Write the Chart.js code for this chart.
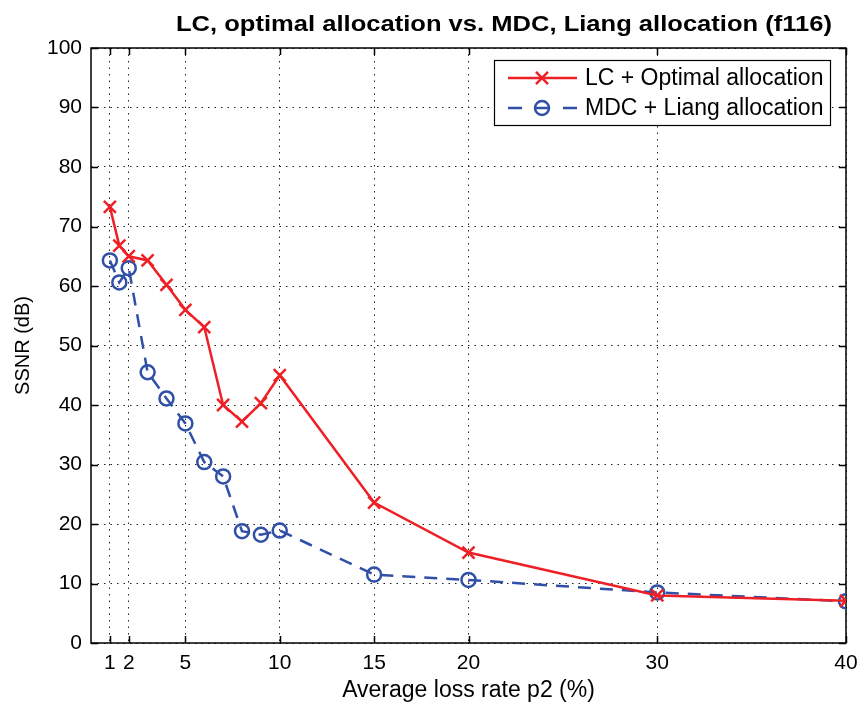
<!DOCTYPE html>
<html>
<head>
<meta charset="utf-8">
<script src="https://cdn.jsdelivr.net/npm/chart.js@4.4.1/dist/chart.umd.min.js"></script>
<style>
  html, body { margin: 0; padding: 0; background: #fff; }
  canvas { display: block; }
</style>
</head>
<body>
<canvas id="chart" width="860" height="706"></canvas>
<script>
// values
const lossRates = [1, 1.5, 2, 3, 4, 5, 6, 7, 8, 9, 10, 15, 20, 30, 40];
const lcOptimal = [73.3, 66.8, 65.0, 64.3, 60.2, 56.0, 53.1, 40.0, 37.2, 40.3, 45.0, 23.6, 15.2, 8.0, 7.1];
const mdcLiang = [64.3, 60.6, 63.0, 45.5, 41.1, 36.9, 30.4, 28.0, 18.8, 18.2, 18.9, 11.5, 10.6, 8.5, 7.0];
const xTicks = [1, 2, 5, 10, 15, 20, 30, 40];
const yTicks = [0, 10, 20, 30, 40, 50, 60, 70, 80, 90, 100];

const titleText = 'LC, optimal allocation vs. MDC, Liang allocation (f116)';
const seriesNames = ['LC + Optimal allocation', 'MDC + Liang allocation'];

const RED = '#ee2026';
const BLUE = '#3050a8';
const FONT = '"Liberation Sans", Arial, Helvetica, sans-serif';

function toPoints(xs, ys) {
  return xs.map((x, i) => ({ x, y: ys[i] }));
}

// MATLAB style box with inward ticks, plus the title
const frameTicks = {
  id: 'frameTicks',
  beforeDatasetsDraw(chart) {
    const { ctx, chartArea: a, scales } = chart;
    const len = 7;
    ctx.save();
    ctx.strokeStyle = '#000';
    ctx.lineWidth = 1.5;
    ctx.beginPath();
    xTicks.forEach((t) => {
      const px = Math.round(scales.x.getPixelForValue(t)) + 0.5;
      ctx.moveTo(px, a.bottom); ctx.lineTo(px, a.bottom - len);
      ctx.moveTo(px, a.top); ctx.lineTo(px, a.top + len);
    });
    yTicks.forEach((t) => {
      const py = Math.round(scales.y.getPixelForValue(t)) + 0.5;
      ctx.moveTo(a.left, py); ctx.lineTo(a.left + len, py);
      ctx.moveTo(a.right, py); ctx.lineTo(a.right - len, py);
    });
    ctx.stroke();
    ctx.strokeRect(a.left, a.top, a.right - a.left, a.bottom - a.top);
    ctx.restore();
  },
  afterDraw(chart) {
    const { ctx } = chart;
    ctx.save();
    ctx.fillStyle = '#000';
    ctx.font = 'bold 22px ' + FONT;
    ctx.textBaseline = 'alphabetic';
    const w = ctx.measureText(titleText).width;
    const target = 656;
    ctx.translate(176, 31);
    ctx.scale(target / w, 1);
    ctx.fillText(titleText, 0, 0);
    ctx.restore();
  }
};

// legend box in the upper right corner
const insideLegend = {
  id: 'insideLegend',
  afterDraw(chart) {
    const { ctx } = chart;
    const box = { x: 494, y: 60, w: 336, h: 65 };
    ctx.save();
    ctx.fillStyle = '#fff';
    ctx.fillRect(box.x, box.y, box.w, box.h);
    ctx.strokeStyle = '#000';
    ctx.lineWidth = 1.2;
    ctx.strokeRect(box.x + 0.5, box.y + 0.5, box.w, box.h);
    chart.data.datasets.forEach((ds, i) => {
      const cy = box.y + 18 + i * 30;
      ctx.save();
      ctx.strokeStyle = ds.borderColor;
      ctx.fillStyle = ds.pointBackgroundColor;
      ctx.lineWidth = ds.borderWidth;
      ctx.beginPath();
      if (ds.borderDash) {
        ctx.moveTo(508, cy); ctx.lineTo(522, cy);
        ctx.moveTo(535, cy); ctx.lineTo(549, cy);
        ctx.moveTo(563, cy); ctx.lineTo(577, cy);
      } else {
        ctx.moveTo(508, cy); ctx.lineTo(577, cy);
      }
      ctx.stroke();
      ctx.lineWidth = ds.pointBorderWidth;
      Chart.helpers.drawPoint(ctx, {
        pointStyle: ds.pointStyle,
        radius: ds.pointRadius,
        borderWidth: ds.pointBorderWidth,
        rotation: 0
      }, 542, cy);
      ctx.restore();
      ctx.fillStyle = '#000';
      ctx.font = '23px ' + FONT;
      ctx.textBaseline = 'middle';
      ctx.fillText(ds.label, 585, cy + 1);
    });
    ctx.restore();
  }
};

const ctx = document.getElementById('chart').getContext('2d');

new Chart(ctx, {
  type: 'scatter',
  data: {
    datasets: [
      {
        label: seriesNames[0],
        data: toPoints(lossRates, lcOptimal),
        showLine: true,
        borderColor: RED,
        backgroundColor: RED,
        borderWidth: 2.5,
        pointStyle: 'crossRot',
        pointRadius: 8.5,
        pointBorderWidth: 2.5,
        pointBorderColor: RED,
        pointBackgroundColor: RED
      },
      {
        label: seriesNames[1],
        data: toPoints(lossRates, mdcLiang),
        showLine: true,
        borderColor: BLUE,
        backgroundColor: 'rgba(0,0,0,0)',
        borderWidth: 2.5,
        borderDash: [13, 9],
        pointStyle: 'circle',
        pointRadius: 7,
        pointBorderWidth: 2.5,
        pointBorderColor: BLUE,
        pointBackgroundColor: 'rgba(0,0,0,0)'
      }
    ]
  },
  options: {
    responsive: false,
    animation: false,
    devicePixelRatio: 1,
    layout: { padding: { left: 0, top: 48, right: 14, bottom: 0 } },
    plugins: {
      legend: { display: false },
      tooltip: { enabled: false },
      title: { display: false }
    },
    scales: {
      x: {
        type: 'linear',
        min: 0,
        max: 40,
        afterBuildTicks(scale) {
          scale.ticks = xTicks.map((v) => ({ value: v }));
        },
        afterFit(scale) {
          scale.height = 63;
          scale.paddingLeft = 0;
          scale.paddingRight = 0;
        },
        ticks: {
          color: '#000',
          font: { family: FONT, size: 21 },
          padding: 8,
          maxRotation: 0,
          autoSkip: false
        },
        grid: { color: '#222', lineWidth: 1, drawTicks: false },
        border: { display: false, dash: [1.5, 5] },
        title: {
          display: true,
          text: 'Average loss rate p2 (%)',
          color: '#000',
          font: { family: FONT, size: 23 },
          padding: { top: 0, bottom: 2 }
        }
      },
      y: {
        min: 0,
        max: 100,
        afterBuildTicks(scale) {
          scale.ticks = yTicks.map((v) => ({ value: v }));
        },
        afterFit(scale) {
          scale.width = 91;
          scale.paddingTop = 0;
          scale.paddingBottom = 0;
        },
        ticks: {
          color: '#000',
          font: { family: FONT, size: 21 },
          padding: 9
        },
        grid: { color: '#222', lineWidth: 1, drawTicks: false },
        border: { display: false, dash: [1.5, 5] },
        title: {
          display: true,
          text: 'SSNR (dB)',
          color: '#000',
          font: { family: FONT, size: 20 },
          padding: { top: 11, bottom: 0 }
        }
      }
    }
  },
  plugins: [frameTicks, insideLegend]
});
</script>
</body>
</html>
